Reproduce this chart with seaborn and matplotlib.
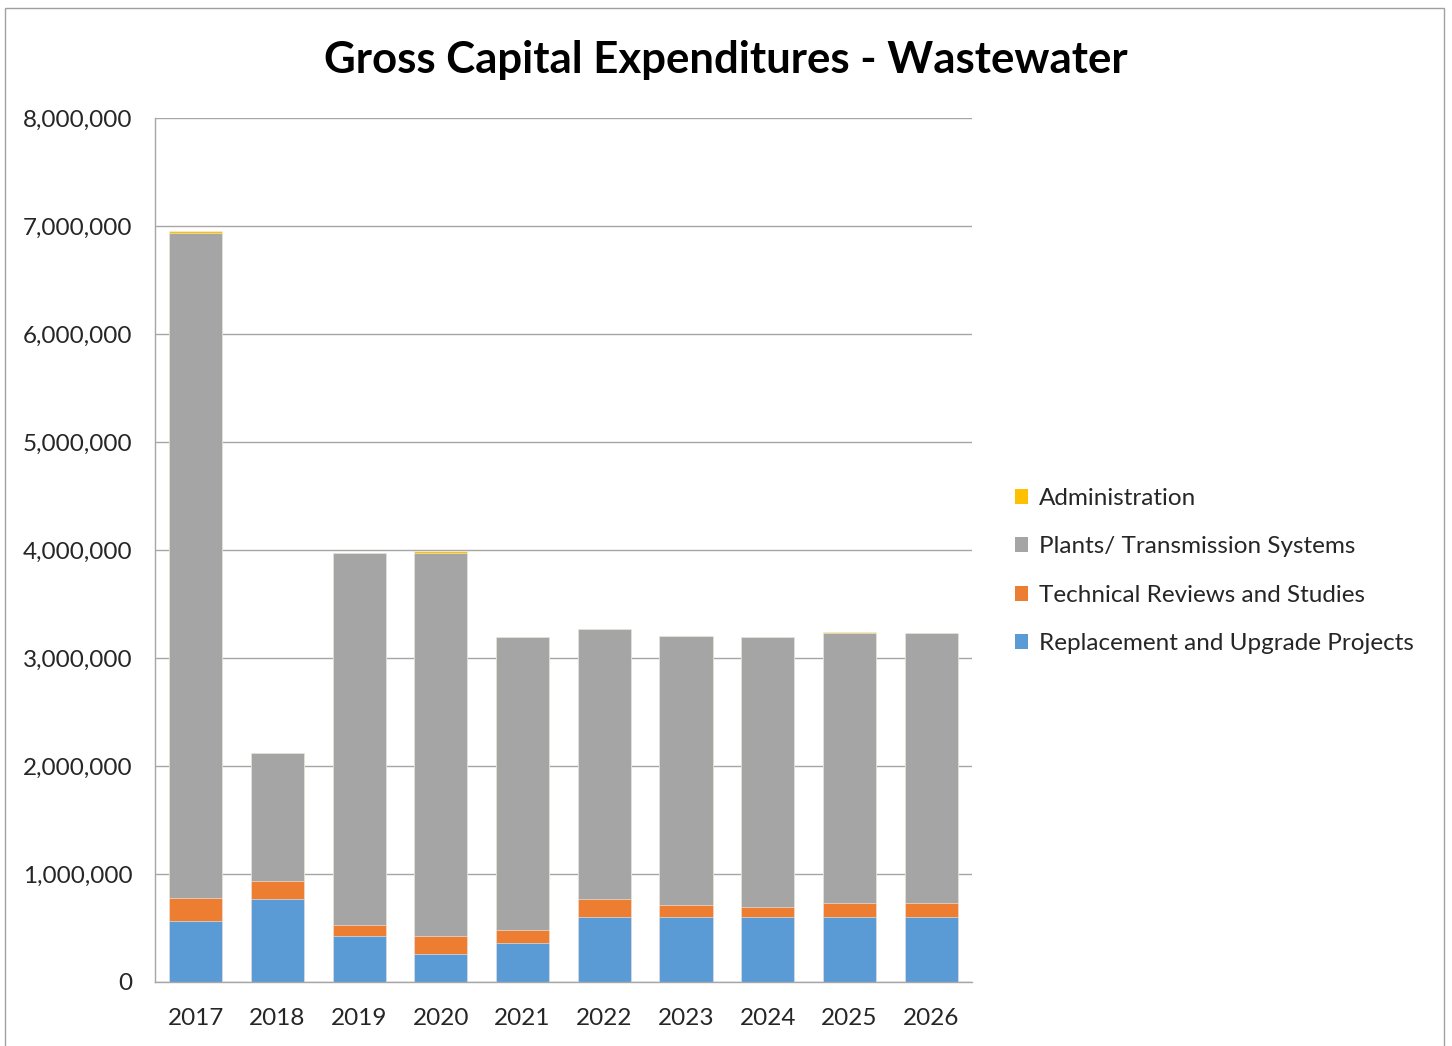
import matplotlib
matplotlib.use("Agg")
import matplotlib.pyplot as plt
from matplotlib.patches import Patch, Rectangle
from matplotlib.ticker import FuncFormatter, MultipleLocator
import numpy as np
import pandas as pd
import seaborn as sns

years = ["2017", "2018", "2019", "2020", "2021", "2022", "2023", "2024", "2025", "2026"]
replacement = [562000, 766000, 429000, 262000, 358000, 600000, 600000, 600000, 600000, 600000]
technical = [213000, 172000, 96000, 167000, 121000, 166000, 117000, 95000, 133000, 133000]
plants = [6162000, 1184000, 3450000, 3546000, 2713000, 2500000, 2490000, 2499000, 2496000, 2496000]
administration = [15000, 0, 0, 15000, 0, 0, 0, 0, 14000, 0]

series_names = ["Replacement and Upgrade Projects", "Technical Reviews and Studies",
                "Plants/ Transmission Systems", "Administration"]
series_colors = ["#5B9BD5", "#ED7D31", "#A5A5A5", "#FFC000"]

sns.set_theme(style="white")
plt.rcParams["font.family"] = ["Lato", "DejaVu Sans"]

df = pd.DataFrame({
    "year": years,
    series_names[0]: replacement,
    series_names[1]: technical,
    series_names[2]: plants,
    series_names[3]: administration,
})
stack = df[series_names].cumsum(axis=1)

fig = plt.figure(figsize=(14.52, 10.46), dpi=100)
ax = fig.add_axes([0.1067, 0.0612, 0.5627, 0.826])

# draw cumulative totals from the top layer down so each layer shows as a stacked segment
for name, color in reversed(list(zip(series_names, series_colors))):
    sns.barplot(data=stack.assign(year=df["year"]), x="year", y=name, order=years,
                color=color, width=0.65, saturation=1, edgecolor="#F2F2F2",
                linewidth=0.4, ax=ax, zorder=2)

ax.set_ylim(0, 8000000)
ax.set_xlim(-0.5, len(years) - 0.5)
ax.yaxis.set_major_locator(MultipleLocator(1000000))
ax.yaxis.set_major_formatter(FuncFormatter(lambda v, p: f"{int(v):,}"))
ax.grid(axis="y", color="#A6A6A6", linewidth=1.0, zorder=0)
ax.set_axisbelow(True)
ax.set_xlabel("")
ax.set_ylabel("")
for side in ["top", "right"]:
    ax.spines[side].set_visible(False)
for side in ["left", "bottom"]:
    ax.spines[side].set_color("#A6A6A6")
    ax.spines[side].set_linewidth(1.0)
ax.tick_params(axis="y", labelsize=17.5, labelcolor="#262626", pad=16, length=0)
ax.tick_params(axis="x", labelsize=17.5, labelcolor="#262626", pad=19, length=0)

fig.text(0.5, 0.943, "Gross Capital Expenditures - Wastewater", ha="center", va="center",
         fontsize=31.5, fontweight="bold", color="black")

handles = [Patch(facecolor=c, edgecolor="none", label=n)
           for n, c in zip(reversed(series_names), reversed(series_colors))]
fig.legend(handles=handles, loc="center left", bbox_to_anchor=(0.684, 0.454),
           frameon=False, fontsize=17.5, handlelength=0.55, handleheight=0.55,
           handletextpad=0.45, labelspacing=1.13, labelcolor="#262626")

fig.add_artist(Rectangle((0.0035, -0.01), 0.991, 1.002, transform=fig.transFigure,
                         fill=False, edgecolor="#A0A0A0", linewidth=1.0))

fig.savefig("out.png", dpi=100, facecolor="white")
